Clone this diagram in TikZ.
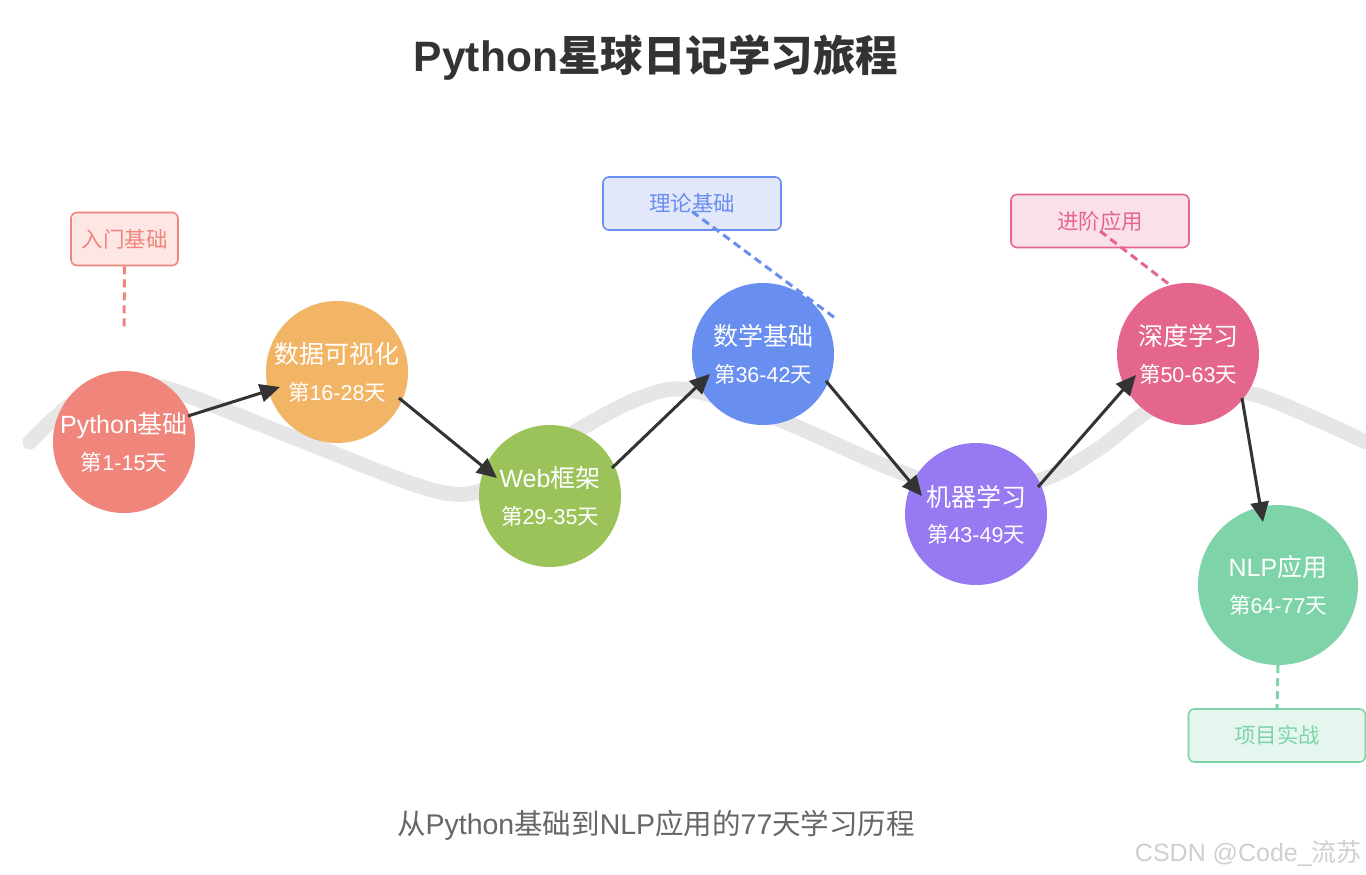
\documentclass[tikz,border=0pt]{standalone}
\usepackage{fontspec}
\setmainfont{Liberation Sans}
\newfontfamily\cjk{Noto Sans CJK SC}
\newcommand\zh[1]{{\cjk #1}}
\usetikzlibrary{arrows.meta,calc}
\definecolor{cPy}{HTML}{F0857C}
\definecolor{cDv}{HTML}{F2B566}
\definecolor{cWeb}{HTML}{9BC35A}
\definecolor{cMa}{HTML}{688EF0}
\definecolor{cMl}{HTML}{9779F2}
\definecolor{cDl}{HTML}{E5668D}
\definecolor{cNlp}{HTML}{7ED4A8}
\definecolor{fPy}{HTML}{FDE6E4}
\definecolor{fMa}{HTML}{E2E8FA}
\definecolor{fDl}{HTML}{FAE0E8}
\definecolor{fNlp}{HTML}{E5F6EE}
\definecolor{band}{HTML}{E6E6E6}
\definecolor{dark}{HTML}{333333}
\definecolor{subgray}{HTML}{666666}
\definecolor{wm}{HTML}{CFCFCF}
\tikzset{
  stage/.style={circle, draw=none, minimum size=142pt, inner sep=0pt},
  bigstage/.style={circle, draw=none, minimum size=160pt, inner sep=0pt},
  ttl/.style={anchor=base, text=white, font=\fontsize{25}{29}\selectfont, inner sep=0pt},
  days/.style={anchor=base, text=white, font=\fontsize{21.5}{25}\selectfont, inner sep=0pt},
  tag/.style={rectangle, rounded corners=6pt, line width=1.6pt, minimum width=107pt, minimum height=53pt, inner sep=0pt, font=\fontsize{21.5}{25}\selectfont},
  arr/.style={draw=dark, line width=3pt, -{Triangle[length=20pt,width=18pt]}},
  dsh/.style={line width=3pt, dash pattern=on 8pt off 5pt},
  wave/.style={draw=band, line width=15pt, line cap=round, line join=round}
}
\begin{document}
\begin{tikzpicture}[x=1pt,y=-1pt]
\useasboundingbox (0,0) rectangle (1366,875);
\fill[white] (0,0) rectangle (1366,875);

% title
\node[anchor=base, text=dark, font=\fontsize{42.5}{48}\selectfont\bfseries, inner sep=0pt] (title) at (656,71) {Python\zh{星球日记学习旅程}};

% wave
\draw[wave] plot[smooth, tension=0.55] coordinates {(30,442) (75,402) (130,386) (175,391) (300,440) (440,492) (500,482) (575,432) (640,398) (690,390) (780,420) (895,470) (960,488) (1040,480) (1097,450) (1150,410) (1205,390) (1263,397) (1366,442)};

% stages
\node[stage, fill=cPy] (py) at (124,442) {};
\node[stage, fill=cDv] (dv) at (337,372) {};
\node[stage, fill=cWeb] (web) at (550,496) {};
\node[stage, fill=cMa] (ma) at (763,354) {};
\node[stage, fill=cMl] (ml) at (976,514) {};
\node[stage, fill=cDl] (dl) at (1188,354) {};
\node[bigstage, fill=cNlp] (nlp) at (1278,585) {};

\node[ttl] (pyt) at ($(py)+(0,-9)$) {Python\zh{基础}};
\node[days] (pyd) at ($(py)+(0,28)$) {\zh{第}1-15\zh{天}};
\node[ttl] (dvt) at ($(dv)+(0,-9)$) {\zh{数据可视化}};
\node[days] (dvd) at ($(dv)+(0,28)$) {\zh{第}16-28\zh{天}};
\node[ttl] (webt) at ($(web)+(0,-9)$) {Web\zh{框架}};
\node[days] (webd) at ($(web)+(0,28)$) {\zh{第}29-35\zh{天}};
\node[ttl] (mat) at ($(ma)+(0,-9)$) {\zh{数学基础}};
\node[days] (mad) at ($(ma)+(0,28)$) {\zh{第}36-42\zh{天}};
\node[ttl] (mlt) at ($(ml)+(0,-8)$) {\zh{机器学习}};
\node[days] (mld) at ($(ml)+(0,28)$) {\zh{第}43-49\zh{天}};
\node[ttl] (dlt) at ($(dl)+(0,-9)$) {\zh{深度学习}};
\node[days] (dld) at ($(dl)+(0,28)$) {\zh{第}50-63\zh{天}};
\node[ttl] (nlpt) at ($(nlp)+(0,-9)$) {NLP\zh{应用}};
\node[days] (nlpd) at ($(nlp)+(0,28)$) {\zh{第}64-77\zh{天}};

% arrows
\draw[arr] ($(py)+(64,-26)$) -- ($(dv)+(-57,15)$);
\draw[arr] ($(dv)+(62,26)$) -- ($(web)+(-53,-18)$);
\draw[arr] ($(web)+(62,-28)$) -- ($(ma)+(-53,20)$);
\draw[arr] ($(ma)+(63,27)$) -- ($(ml)+(-54,-18)$);
\draw[arr] ($(ml)+(62,-27)$) -- ($(dl)+(-52,21)$);
\draw[arr] ($(dl)+(54,44)$) -- ($(nlp)+(-15,-63)$);

% tags
\node[tag, draw=cPy, fill=fPy, text=cPy] (rm) at (124.5,239) {\zh{入门基础}};
\node[tag, draw=cMa, fill=fMa, text=cMa, minimum width=178pt] (ll) at (692,203.5) {\zh{理论基础}};
\node[tag, draw=cDl, fill=fDl, text=cDl, minimum width=178pt] (jj) at (1100,221) {\zh{进阶应用}};
\node[tag, draw=cNlp, fill=fNlp, text=cNlp, minimum width=177pt] (xm) at (1277,735.5) {\zh{项目实战}};

\coordinate (rmend) at (124,330);
\coordinate (llend) at (835,318);
\coordinate (jjend) at (1170,285);
\draw[dsh, draw=cPy] (rm.south) -- (rmend);
\draw[dsh, draw=cMa] ($(ll.center)+(0,8)$) -- (llend);
\draw[dsh, draw=cDl] ($(jj.center)+(0,10)$) -- (jjend);
\draw[dsh, draw=cNlp] (nlp.south) -- (xm.north);

% bottom texts
\node[anchor=base, text=subgray, font=\fontsize{28.5}{33}\selectfont, inner sep=0pt] (sub) at (656,834) {\zh{从}Python\zh{基础到}NLP\zh{应用的}77\zh{天学习历程}};
\node[anchor=base east, text=wm, font=\fontsize{25}{29}\selectfont, inner sep=0pt] (wmk) at (1362,861) {CSDN @Code\_\zh{流苏}};
\end{tikzpicture}
\end{document}
